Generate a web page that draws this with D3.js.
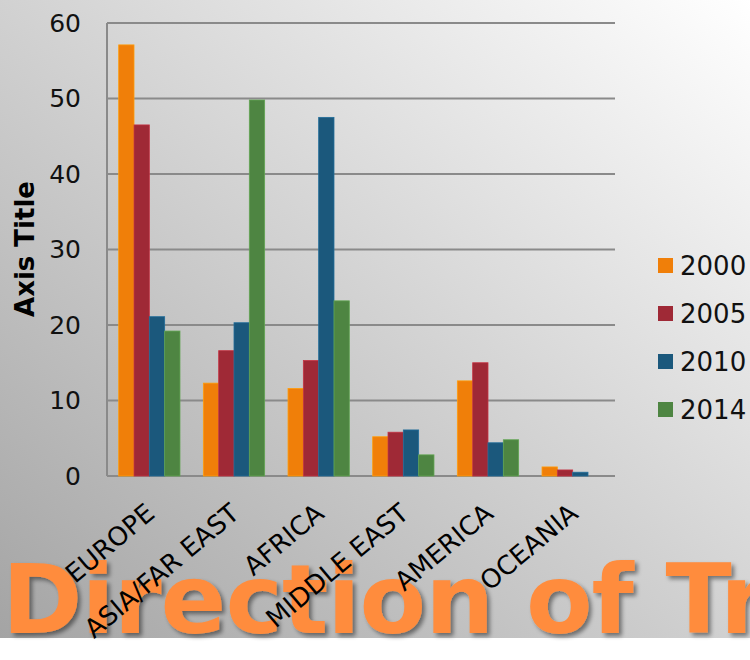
<!DOCTYPE html>
<html>
<head>
<meta charset="utf-8">
<script src="https://cdn.jsdelivr.net/npm/d3@7"></script>
<style>
  body { margin: 0; background: #fff; }
  #container { width: 750px; height: 660px; }
  text { font-family: "DejaVu Sans", Verdana, sans-serif; }
</style>
</head>
<body>
<div id="container"></div>
<script>
var regions = ["EUROPE", "ASIA/FAR EAST", "AFRICA", "MIDDLE EAST", "AMERICA", "OCEANIA"]
var years = ["2000", "2005", "2010", "2014"]
var colours = ["#f07f09", "#9f2936", "#1b587c", "#4e8542"]
var v2000 = [57.1, 12.3, 11.6, 5.2, 12.6, 1.2]
var v2005 = [46.5, 16.6, 15.3, 5.8, 15.0, 0.8]
var v2010 = [21.1, 20.3, 47.5, 6.1, 4.4, 0.5]
var v2014 = [19.2, 49.8, 23.2, 2.8, 4.8, 0]
var yTicks = [0, 10, 20, 30, 40, 50, 60]

function drawChart() {
  var width = 750
  var height = 660
  var svg = d3.select("#container")
    .append("svg")
    .attr("width", width)
    .attr("height", height)

  var series = [v2000, v2005, v2010, v2014]

  // slide-ish grey background, darker at the bottom left
  var defs = svg.append("defs")
  var grad = defs.append("linearGradient")
    .attr("id", "bg")
    .attr("x1", "0%").attr("y1", "100%")
    .attr("x2", "100%").attr("y2", "0%")
  grad.append("stop").attr("offset", "0%").attr("stop-color", "#a4a4a4")
  grad.append("stop").attr("offset", "100%").attr("stop-color", "#ffffff")

  var shadow = defs.append("filter").attr("id", "shadow")
    .attr("x", "-5%").attr("y", "-5%").attr("width", "110%").attr("height", "120%")
  shadow.append("feDropShadow")
    .attr("dx", 3).attr("dy", 3).attr("stdDeviation", 2)
    .attr("flood-color", "#000").attr("flood-opacity", 0.45)

  svg.append("rect")
    .attr("width", width)
    .attr("height", 638)
    .attr("fill", "url(#bg)")

  var x0 = d3.scaleBand()
    .domain(regions)
    .range([107, 615])
    .paddingInner(0.276)
    .paddingOuter(0.138)

  var x1 = d3.scaleBand()
    .domain(years)
    .range([0, x0.bandwidth()])

  var y = d3.scaleLinear()
    .domain([0, 60])
    .range([476, 23])

  // gridlines
  svg.append("g")
    .selectAll("line")
    .data(yTicks)
    .enter()
    .append("line")
    .attr("x1", 107)
    .attr("x2", 615)
    .attr("y1", (d) => y(d))
    .attr("y2", (d) => y(d))
    .attr("stroke", "#8a8a8a")
    .attr("stroke-width", 2)

  svg.append("line")
    .attr("x1", 107).attr("x2", 107)
    .attr("y1", y(60)).attr("y2", y(0))
    .attr("stroke", "#8a8a8a")
    .attr("stroke-width", 2)

  // y tick labels
  var yAxis = svg.append("g")
    .attr("transform", "translate(107,0)")
    .call(d3.axisLeft(y).tickValues(yTicks).tickSize(0).tickPadding(26))
  yAxis.select(".domain").remove()
  yAxis.selectAll("text")
    .attr("font-family", "DejaVu Sans")
    .attr("font-size", 25)
    .attr("fill", "#111")

  svg.append("text")
    .attr("transform", "translate(34,249) rotate(-90)")
    .attr("text-anchor", "middle")
    .attr("font-size", 26)
    .attr("font-weight", "bold")
    .attr("fill", "#000")
    .text("Axis Title")

  // bars, thin lighter edge like the office theme
  svg.append("g")
    .selectAll("g")
    .data(series)
    .enter()
    .append("g")
    .attr("fill", (d, i) => colours[i])
    .attr("stroke", (d, i) => d3.color(colours[i]).brighter(0.6))
    .attr("stroke-width", 0.8)
    .each(function(vals, i) {
      d3.select(this).selectAll("rect")
        .data(vals)
        .enter()
        .append("rect")
        .attr("x", (d, j) => x0(regions[j]) + x1(years[i]))
        .attr("width", x1.bandwidth())
        .attr("y", (d) => y(d))
        .attr("height", (d) => y(0) - y(d))
    })

  // legend
  var legend = svg.append("g")
    .selectAll("g")
    .data(years)
    .enter()
    .append("g")
    .attr("transform", (d, i) => "translate(658," + (258 + i * 48) + ")")
  legend.append("rect")
    .attr("width", 15)
    .attr("height", 15)
    .attr("fill", (d, i) => colours[i])
  legend.append("text")
    .attr("x", 22)
    .attr("y", 17)
    .attr("font-size", 26)
    .attr("fill", "#111")
    .text((d) => d)

  // big slide title, sits under the category labels
  svg.append("text")
    .attr("x", 2)
    .attr("y", 633)
    .attr("font-size", 97)
    .attr("font-weight", "bold")
    .attr("letter-spacing", -1)
    .attr("fill", "#ff8c3c")
    .attr("filter", "url(#shadow)")
    .text("Direction of Trade")

  // category labels
  svg.append("g")
    .selectAll("text")
    .data(regions)
    .enter()
    .append("text")
    .attr("transform", (d) => "translate(" + (x0(d) + x0.bandwidth() / 2 + 7) + ",516) rotate(-40)")
    .attr("text-anchor", "end")
    .attr("font-size", 26)
    .attr("fill", "#000")
    .text((d) => d)
}

drawChart()
</script>
</body>
</html>
